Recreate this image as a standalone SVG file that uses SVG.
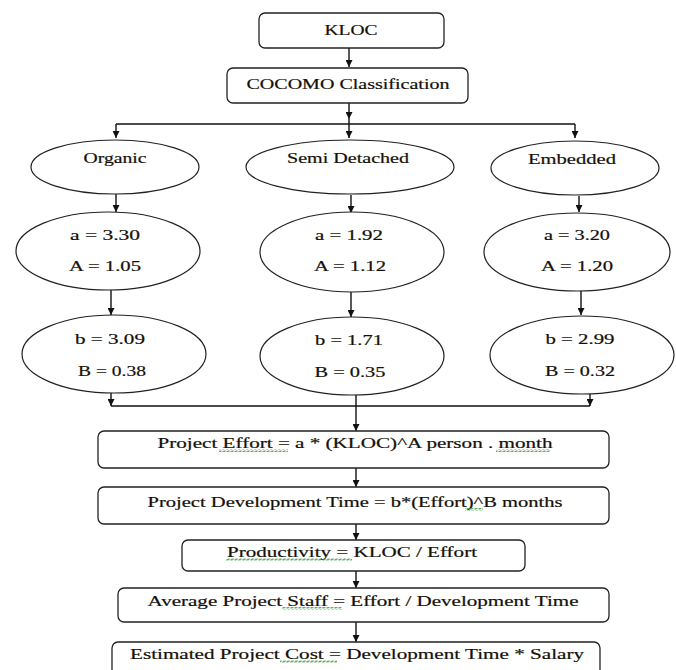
<svg xmlns="http://www.w3.org/2000/svg" width="676" height="670" viewBox="0 0 676 670" font-family="Liberation Serif, Times New Roman, DejaVu Serif, serif">
<style>
.box{fill:#fff;stroke:#222;stroke-width:1.3}
.ell{fill:#fff;stroke:#222;stroke-width:1.2}
.t{font-size:15px;fill:#141008;stroke:#141008;stroke-width:0.2;text-anchor:middle}
.c{fill:none;stroke:#111;stroke-width:1.4}
.w{fill:url(#wave)}
</style>
<defs>
<marker id="ah" viewBox="0 0 10 10" refX="10" refY="5" markerWidth="7" markerHeight="7" markerUnits="userSpaceOnUse" orient="auto">
<path d="M0,0 L10,5 L0,10 Z" fill="#111"/>
</marker>
<pattern id="wave" width="4" height="3" patternUnits="userSpaceOnUse">
<polyline points="0,2.5 1,0.5 3,2.5 4,0.5" fill="none" stroke="#3a9a3a" stroke-width="0.8"/>
</pattern>
</defs>
<rect width="676" height="670" fill="#fff"/>

<g id="connectors">
<path class="c" d="M349,48 V67" marker-end="url(#ah)"/>
<path class="c" d="M349,103 V119" marker-end="url(#ah)"/>
<path class="c" d="M349,119 V138" marker-end="url(#ah)"/>
<path class="c" d="M116,124 H575"/>
<path class="c" d="M116,124 V138" marker-end="url(#ah)"/>
<path class="c" d="M575,124 V138" marker-end="url(#ah)"/>
<path class="c" d="M116,194 V212" marker-end="url(#ah)"/>
<path class="c" d="M351,195 V213" marker-end="url(#ah)"/>
<path class="c" d="M579,196 V212" marker-end="url(#ah)"/>
<path class="c" d="M111,290 V315" marker-end="url(#ah)"/>
<path class="c" d="M351,292 V317" marker-end="url(#ah)"/>
<path class="c" d="M581,291 V315" marker-end="url(#ah)"/>
<path class="c" d="M111,393 V406" marker-end="url(#ah)"/>
<path class="c" d="M590,394 V406" marker-end="url(#ah)"/>
<path class="c" d="M111,406 H590"/>
<path class="c" d="M356,395 V431" marker-end="url(#ah)"/>
<path class="c" d="M356,468 V487" marker-end="url(#ah)"/>
<path class="c" d="M356,524 V540" marker-end="url(#ah)"/>
<path class="c" d="M356,571 V588" marker-end="url(#ah)"/>
<path class="c" d="M356,622 V642" marker-end="url(#ah)"/>
</g>

<g id="kloc">
<rect class="box" x="259" y="13" width="185" height="35" rx="6"/>
<text class="t" x="351" y="35" textLength="53" lengthAdjust="spacingAndGlyphs">KLOC</text>
</g>
<g id="cocomo">
<rect class="box" x="227" y="68" width="241" height="35" rx="6"/>
<text class="t" x="348" y="89" textLength="203" lengthAdjust="spacingAndGlyphs">COCOMO Classification</text>
</g>

<g id="organic">
<ellipse class="ell" cx="115" cy="167" rx="84" ry="27"/>
<text class="t" x="115" y="163" textLength="63" lengthAdjust="spacingAndGlyphs">Organic</text>
</g>
<g id="semi">
<ellipse class="ell" cx="350" cy="167" rx="104" ry="27"/>
<text class="t" x="348" y="163" textLength="122" lengthAdjust="spacingAndGlyphs">Semi Detached</text>
</g>
<g id="embedded">
<ellipse class="ell" cx="575" cy="168" rx="84" ry="27"/>
<text class="t" x="572" y="164" textLength="88" lengthAdjust="spacingAndGlyphs">Embedded</text>
</g>

<g id="organic-a">
<ellipse class="ell" cx="108" cy="251" rx="92" ry="39"/>
<text class="t" x="105" y="240" textLength="70" lengthAdjust="spacingAndGlyphs">a = 3.30</text>
<text class="t" x="105" y="271" textLength="72" lengthAdjust="spacingAndGlyphs">A = 1.05</text>
</g>
<g id="semi-a">
<ellipse class="ell" cx="352" cy="252" rx="92" ry="40"/>
<text class="t" x="349" y="240" textLength="68" lengthAdjust="spacingAndGlyphs">a = 1.92</text>
<text class="t" x="350" y="271" textLength="72" lengthAdjust="spacingAndGlyphs">A = 1.12</text>
</g>
<g id="embedded-a">
<ellipse class="ell" cx="577" cy="252" rx="93" ry="39"/>
<text class="t" x="577" y="240" textLength="66" lengthAdjust="spacingAndGlyphs">a = 3.20</text>
<text class="t" x="577" y="271" textLength="72" lengthAdjust="spacingAndGlyphs">A = 1.20</text>
</g>

<g id="organic-b">
<ellipse class="ell" cx="114" cy="354" rx="92" ry="39"/>
<text class="t" x="110" y="344" textLength="70" lengthAdjust="spacingAndGlyphs">b = 3.09</text>
<text class="t" x="112" y="376" textLength="68" lengthAdjust="spacingAndGlyphs">B = 0.38</text>
</g>
<g id="semi-b">
<ellipse class="ell" cx="352" cy="356" rx="92" ry="39"/>
<text class="t" x="349" y="345" textLength="68" lengthAdjust="spacingAndGlyphs">b = 1.71</text>
<text class="t" x="350" y="377" textLength="71" lengthAdjust="spacingAndGlyphs">B = 0.35</text>
</g>
<g id="embedded-b">
<ellipse class="ell" cx="582" cy="355" rx="92" ry="39"/>
<text class="t" x="580" y="344" textLength="69" lengthAdjust="spacingAndGlyphs">b = 2.99</text>
<text class="t" x="580" y="376" textLength="70" lengthAdjust="spacingAndGlyphs">B = 0.32</text>
</g>

<g id="effort">
<rect class="box" x="98" y="431" width="511" height="37" rx="6"/>
<text class="t" x="355" y="448" textLength="395" lengthAdjust="spacingAndGlyphs">Project Effort  = a * (KLOC)^A person . month</text>
<rect class="w" x="219" y="449" width="69" height="3"/>
<rect class="w" x="496" y="449" width="54" height="3"/>
</g>
<g id="devtime">
<rect class="box" x="98" y="487" width="511" height="37" rx="6"/>
<text class="t" x="355" y="507" textLength="415" lengthAdjust="spacingAndGlyphs">Project Development Time = b*(Effort)^B months</text>
<rect class="w" x="465" y="508" width="18" height="3"/>
</g>
<g id="productivity">
<rect class="box" x="182" y="540" width="343" height="31" rx="6"/>
<text class="t" x="352" y="557" textLength="250" lengthAdjust="spacingAndGlyphs">Productivity  = KLOC / Effort</text>
<rect class="w" x="226" y="558" width="126" height="3"/>
</g>
<g id="staff">
<rect class="box" x="118" y="588" width="491" height="34" rx="6"/>
<text class="t" x="363" y="606" textLength="431" lengthAdjust="spacingAndGlyphs">Average Project Staff  = Effort /  Development Time</text>
<rect class="w" x="282" y="607" width="60" height="3"/>
</g>
<g id="cost">
<rect class="box" x="112" y="642" width="488" height="40" rx="6"/>
<text class="t" x="357" y="659" textLength="454" lengthAdjust="spacingAndGlyphs">Estimated Project Cost  = Development Time *  Salary</text>
<rect class="w" x="280" y="660" width="57" height="3"/>
</g>
</svg>
